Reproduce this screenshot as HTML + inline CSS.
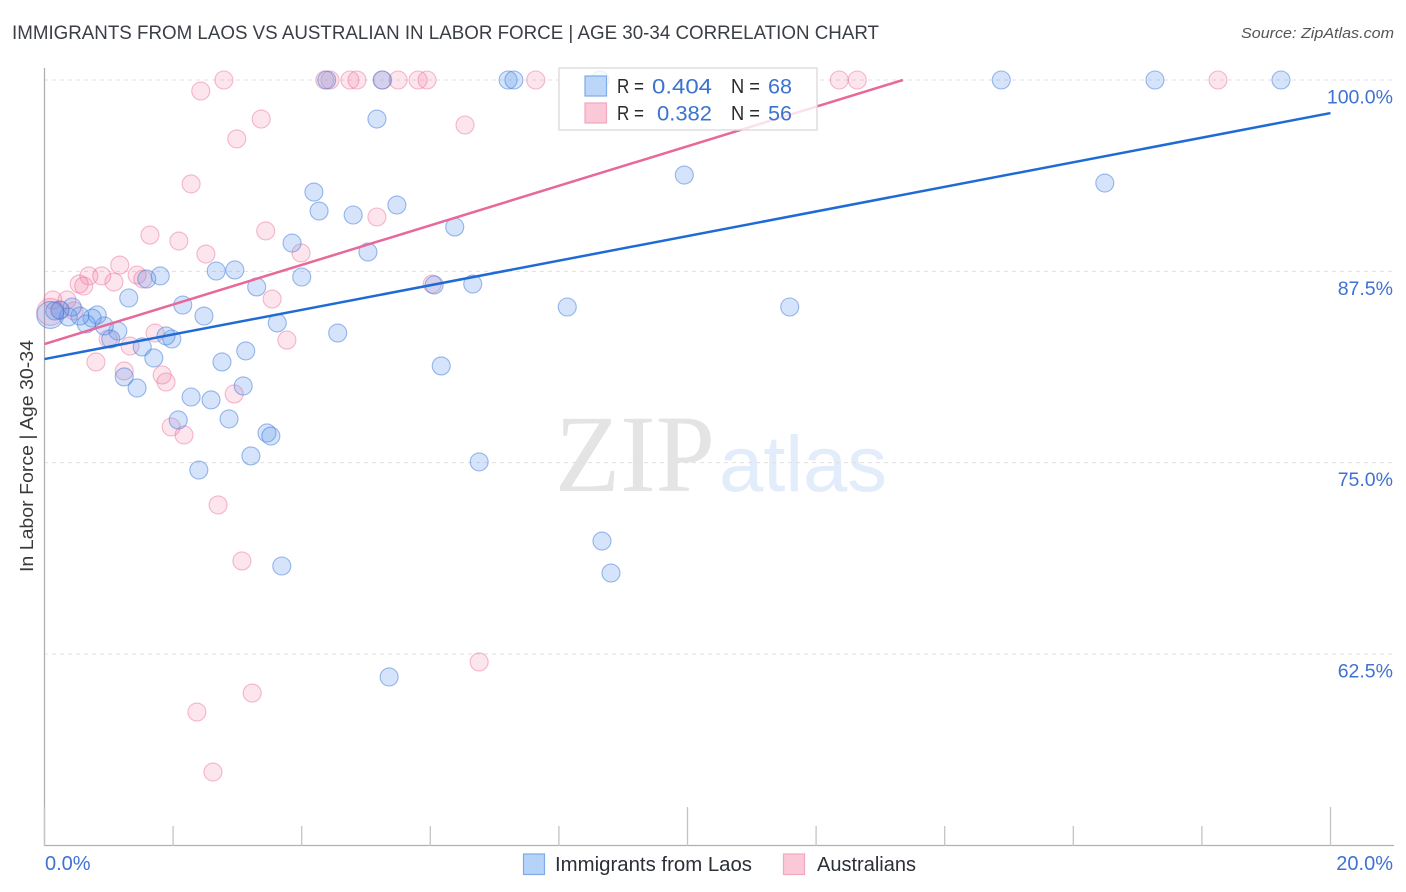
<!DOCTYPE html>
<html lang="en">
<head>
<meta charset="utf-8">
<title>Immigrants from Laos vs Australian In Labor Force | Age 30-34 Correlation Chart</title>
<style>
html,body{margin:0;padding:0;background:#fff;}
svg{display:block;font-family:"Liberation Sans",sans-serif;}
</style>
</head>
<body>
<svg id="chart" xmlns="http://www.w3.org/2000/svg" width="1406" height="892" viewBox="0 0 1406 892">
  <text x="12" y="39" font-size="19" fill="#3a3e45" textLength="867" lengthAdjust="spacingAndGlyphs">IMMIGRANTS FROM LAOS VS AUSTRALIAN IN LABOR FORCE | AGE 30-34 CORRELATION CHART</text>
  <text x="1394" y="38" font-size="15" font-style="italic" fill="#555" text-anchor="end" textLength="153" lengthAdjust="spacingAndGlyphs">Source: ZipAtlas.com</text>

  <g>
    <text x="555" y="491" font-family="'Liberation Serif',serif" font-size="110" fill="#e4e4e4" textLength="160" lengthAdjust="spacingAndGlyphs">ZIP</text>
    <text x="719" y="491" font-size="79" fill="#e3ecfa" textLength="168" lengthAdjust="spacingAndGlyphs">atlas</text>
  </g>

  <g id="grid"></g>
  <g id="axes"></g>
  <g id="pinkPoints"></g>
  <g id="bluePoints"></g>
  <g id="lines"></g>

  <g>
    <rect x="559" y="68" width="258" height="62" fill="#fff" fill-opacity="0.8" stroke="#d9d9d9" stroke-width="1.3"/>
    <rect x="585" y="76" width="21.5" height="20" fill="#b5d2f8" fill-opacity="0.9" stroke="#7fabe6" stroke-width="1.2"/>
    <rect x="585" y="103" width="21.5" height="20" fill="#fbc8d8" stroke="#f0a8bf" stroke-width="1.2"/>
    <g font-size="20" fill="#2b2b2b">
      <text x="617" y="93" textLength="27" lengthAdjust="spacingAndGlyphs">R =</text>
      <text x="617" y="120" textLength="27" lengthAdjust="spacingAndGlyphs">R =</text>
      <text x="731" y="93" textLength="29" lengthAdjust="spacingAndGlyphs">N =</text>
      <text x="731" y="120" textLength="29" lengthAdjust="spacingAndGlyphs">N =</text>
    </g>
    <g font-size="21.5" fill="#3b73cf">
      <text x="652" y="93.5" textLength="60" lengthAdjust="spacingAndGlyphs">0.404</text>
      <text x="657" y="120.5" textLength="55" lengthAdjust="spacingAndGlyphs">0.382</text>
      <text x="768" y="93.5" textLength="24" lengthAdjust="spacingAndGlyphs">68</text>
      <text x="768" y="120.5" textLength="24" lengthAdjust="spacingAndGlyphs">56</text>
    </g>
  </g>

  <text transform="translate(33,572) rotate(-90)" font-size="18.5" fill="#3a3a3a" textLength="232" lengthAdjust="spacingAndGlyphs">In Labor Force | Age 30-34</text>

  <g>
    <rect x="523.5" y="854" width="21" height="20.5" fill="#b5d2f8" stroke="#7fabe6" stroke-width="1.2"/>
    <text x="555" y="871" font-size="20" fill="#2b2f36" textLength="197" lengthAdjust="spacingAndGlyphs">Immigrants from Laos</text>
    <rect x="783.5" y="854" width="21" height="20.5" fill="#fbc8d8" stroke="#f0a8bf" stroke-width="1.2"/>
    <text x="817" y="871" font-size="20" fill="#2b2f36" textLength="99" lengthAdjust="spacingAndGlyphs">Australians</text>
  </g>
</svg>

<script>
const xTickValues = [0, 2, 4, 6, 8, 10, 12, 14, 16, 18, 20];
const xLabeledTicks = [0, 20];
const xMajorTicks = [0, 10, 20];
const yTickValues = [100, 87.5, 75, 62.5];

// Values are percent (x: Immigrants from Laos, y: In Labor Force). First point is the aggregate one.
const laosX = [0.09,8.64,5.25,4.39,7.21,7.30,14.88,17.27,19.23,5.17,9.95,16.49,4.19,4.27,4.80,5.48,6.38,3.85,5.03,2.67,2.96,1.80,1.59,4.00,3.30,6.06,6.66,1.31,2.15,2.48,8.13,11.59,3.62,4.56,1.14,1.03,0.93,0.82,0.74,0.65,0.55,0.37,0.43,0.24,0.16,1.52,1.98,1.89,3.13,1.70,2.76,6.17,1.24,1.44,3.09,2.28,2.59,2.08,2.87,3.46,3.52,3.21,2.40,6.76,8.67,8.81,3.69,5.36];
const laosY = [84.65,100,100,100,100,100,100,100,100,97.45,93.79,93.27,92.68,91.44,91.18,91.83,90.40,89.35,88.76,87.52,87.59,87.20,87.00,87.13,86.48,86.61,86.67,85.76,85.30,84.58,85.17,85.17,84.13,83.47,83.60,83.08,83.93,84.65,84.45,84.06,84.58,84.52,85.17,84.97,84.91,82.56,83.08,83.28,82.30,81.84,81.58,81.32,80.60,79.88,80.01,79.29,79.10,77.79,77.86,76.94,76.74,75.44,74.52,75.05,69.88,67.79,68.25,61.00];

const australiansX = [0.09,2.79,2.43,4.36,4.44,4.75,4.86,5.26,5.50,5.81,5.95,7.64,12.36,12.64,18.25,3.37,2.99,6.54,2.28,1.64,2.09,2.51,3.44,5.17,3.99,1.17,0.69,0.89,1.44,1.53,0.54,0.61,1.08,6.03,3.54,0.35,0.13,0.46,0.24,1.72,0.99,1.33,3.77,0.80,1.24,1.83,1.89,2.95,1.97,2.17,2.70,3.07,6.76,3.23,2.37,2.62];
const australiansY = [84.85,100,99.28,100,100,100,100,100,100,100,100,100,100,100,100,97.45,96.15,97.06,93.21,89.87,89.48,88.63,90.14,91.05,88.70,87.91,87.20,87.20,87.26,87.00,86.67,86.54,86.80,86.67,85.69,85.63,85.63,84.91,84.97,83.47,83.08,82.62,83.01,81.58,80.99,80.73,80.27,79.49,77.33,76.81,72.24,68.58,61.98,59.95,58.71,54.79];

const laosTrendX = [0, 20];
const laosTrendY = [81.77, 97.84];
const australiansTrendX = [0, 13.35];
const australiansTrendY = [82.75, 100];

const NS = 'http://www.w3.org/2000/svg';
function xScale(v){ return 44.5 + v * 64.3; }
function yScale(v){ return 80 + (100 - v) * 15.307; }
function make(parent, tag, attrs, text){
  const el = document.createElementNS(NS, tag);
  for (const k in attrs) el.setAttribute(k, attrs[k]);
  if (text !== undefined) el.textContent = text;
  parent.appendChild(el);
  return el;
}

const grid = document.getElementById('grid');
const axes = document.getElementById('axes');

yTickValues.forEach(function(v){
  const line = make(grid, 'line', {x1:44, x2:1394, y1:yScale(v), y2:yScale(v), stroke:'#e0e0e0', 'stroke-width':1, 'stroke-dasharray':'4 4'});
  
  
  const label = make(axes, 'text', {x:1393, y:yScale(v) + 23.5, 'font-size':19.5, fill:'#3f72d2', 'text-anchor':'end'}, v.toFixed(1) + '%');
  
  
});

const yAxis = make(axes, 'line', {x1:44.5, x2:44.5, y1:68, y2:846, stroke:'#b0b0b0', 'stroke-width':1.3});


const xAxis = make(axes, 'line', {x1:44, x2:1394, y1:845.5, y2:845.5, stroke:'#b0b0b0', 'stroke-width':1.3});



xTickValues.forEach(function(v){
  const top = xMajorTicks.indexOf(v) >= 0 ? 807 : 826;
  const tick = make(axes, 'line', {x1:xScale(v), x2:xScale(v), y1:top, y2:846, stroke:'#c4c4c4', 'stroke-width':1.3});
  
  
});
xLabeledTicks.forEach(function(v){
  const last = v === xLabeledTicks[xLabeledTicks.length - 1];
  const label = make(axes, 'text', {x:last ? 1393 : 45, y:870, 'font-size':20, fill:'#3f72d2', 'text-anchor':last ? 'end' : 'start'}, v.toFixed(1) + '%');
  
  
});

function drawPoints(groupId, xs, ys, fill, stroke){
  const group = document.getElementById(groupId);
  xs.forEach(function(x, i){
    const c = make(group, 'circle', {cx:xScale(x), cy:yScale(ys[i]), r:i === 0 ? 13.5 : 9, fill:fill, stroke:stroke, 'stroke-width':1.1});
    
    
  });
}
drawPoints('pinkPoints', australiansX, australiansY, 'rgba(242,125,165,0.2)', 'rgba(235,105,145,0.45)');
drawPoints('bluePoints', laosX, laosY, 'rgba(100,155,235,0.27)', 'rgba(60,120,215,0.5)');

const lines = document.getElementById('lines');
const laosLine = make(lines, 'line', {x1:xScale(laosTrendX[0]), y1:yScale(laosTrendY[0]), x2:xScale(laosTrendX[1]), y2:yScale(laosTrendY[1]), stroke:'#1f6bd6', 'stroke-width':2.5});


const australiansLine = make(lines, 'line', {x1:xScale(australiansTrendX[0]), y1:yScale(australiansTrendY[0]), x2:xScale(australiansTrendX[1]), y2:yScale(australiansTrendY[1]), stroke:'#e8689a', 'stroke-width':2.5});


</script>
</body>
</html>
